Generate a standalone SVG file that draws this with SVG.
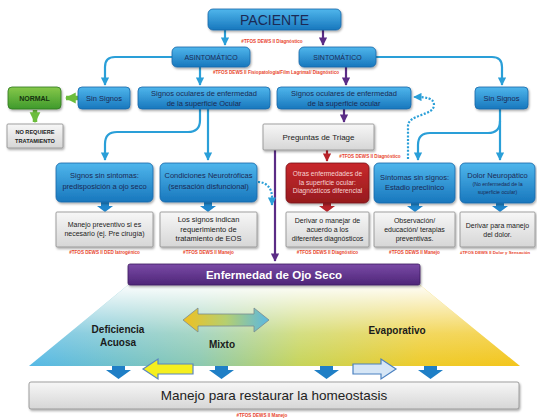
<svg xmlns="http://www.w3.org/2000/svg" width="537" height="420" viewBox="0 0 537 420">
<defs>
<linearGradient id="gBlue" x1="0" y1="0" x2="0" y2="1"><stop offset="0" stop-color="#4fb6ec"/><stop offset="1" stop-color="#1877bd"/></linearGradient>
<linearGradient id="gGray" x1="0" y1="0" x2="0" y2="1"><stop offset="0" stop-color="#f7f7f7"/><stop offset="1" stop-color="#d6d6d6"/></linearGradient>
<linearGradient id="gRed" x1="0" y1="0" x2="0" y2="1"><stop offset="0" stop-color="#c8282c"/><stop offset="1" stop-color="#961b1e"/></linearGradient>
<linearGradient id="gGreen" x1="0" y1="0" x2="0" y2="1"><stop offset="0" stop-color="#86c84a"/><stop offset="1" stop-color="#3f9a2c"/></linearGradient>
<linearGradient id="gPurple" x1="0" y1="0" x2="0" y2="1"><stop offset="0" stop-color="#7a4aa6"/><stop offset="1" stop-color="#4e2678"/></linearGradient>
<linearGradient id="gTrapH" x1="0" y1="0" x2="1" y2="0"><stop offset="0" stop-color="#55b9e6"/><stop offset="0.35" stop-color="#8cc9b0"/><stop offset="0.55" stop-color="#c6d45a"/><stop offset="0.8" stop-color="#eecb2a"/><stop offset="1" stop-color="#f3c51c"/></linearGradient>
<linearGradient id="gTrapV" x1="0" y1="0" x2="0" y2="1"><stop offset="0" stop-color="#ffffff" stop-opacity="0.97"/><stop offset="0.6" stop-color="#ffffff" stop-opacity="0.25"/><stop offset="1" stop-color="#ffffff" stop-opacity="0"/></linearGradient>
<linearGradient id="gDbl" x1="0" y1="0" x2="1" y2="0"><stop offset="0" stop-color="#f0c020"/><stop offset="0.5" stop-color="#b5cf70"/><stop offset="1" stop-color="#5ab8e2"/></linearGradient>
<filter id="sh" x="-10%" y="-10%" width="130%" height="140%"><feDropShadow dx="1" dy="1.5" stdDeviation="1.2" flood-color="#000" flood-opacity="0.35"/></filter>
<marker id="aB" viewBox="0 0 10 10" refX="9" refY="5" markerWidth="3.8" markerHeight="3.8" orient="auto" markerUnits="strokeWidth"><path d="M0,0 L10,5 L0,10 z" fill="#2a9fd8"/></marker>
<marker id="aP" viewBox="0 0 10 10" refX="9" refY="5" markerWidth="3.8" markerHeight="3.8" orient="auto" markerUnits="strokeWidth"><path d="M0,0 L10,5 L0,10 z" fill="#5b2c86"/></marker>
<marker id="aR" viewBox="0 0 10 10" refX="9" refY="5" markerWidth="3.8" markerHeight="3.8" orient="auto" markerUnits="strokeWidth"><path d="M0,0 L10,5 L0,10 z" fill="#b8232a"/></marker>
<marker id="aG" viewBox="0 0 10 10" refX="9" refY="5" markerWidth="2.4" markerHeight="2.8" orient="auto" markerUnits="strokeWidth"><path d="M0,0 L10,5 L0,10 z" fill="#6cbd3c"/></marker>
</defs>
<style>
.blue{fill:url(#gBlue);stroke:#1667a8;stroke-width:0.8;filter:url(#sh)}
.gray{fill:url(#gGray);stroke:#8a8a8a;stroke-width:0.8;filter:url(#sh)}
.red{fill:url(#gRed);stroke:#7a1216;stroke-width:0.8;filter:url(#sh)}
.green{fill:url(#gGreen);stroke:#2f7a20;stroke-width:0.8;filter:url(#sh)}
.purple{fill:url(#gPurple);stroke:#3e1d60;stroke-width:0.8;filter:url(#sh)}
text{font-family:"Liberation Sans",Arial,sans-serif;text-anchor:middle}
.tb{fill:#1b2a55;font-size:7.5px}
.tg{fill:#222;font-size:7.5px}
.tr{fill:#e8452c;font-size:4.6px;font-weight:bold}
.lb{stroke:#2a9fd8;stroke-width:2.2;fill:none;marker-end:url(#aB)}
.lp{stroke:#5b2c86;stroke-width:2.2;fill:none;marker-end:url(#aP)}
.dot{stroke:#2a9fd8;stroke-width:2.2;fill:none;stroke-dasharray:2 1.6;marker-end:url(#aB)}
.lab{font-weight:bold;fill:#1b1b1b;font-size:10px}
</style>

<g id="trapezoid">
<polygon points="128,285 420,285 520,366 29,366" fill="url(#gTrapH)"/>
<polygon points="128,285 420,285 520,366 29,366" fill="url(#gTrapV)"/>
</g>

<g id="connectors">
<path class="lb" d="M225,30 V45"/>
<path class="lp" d="M323,30 V45"/>
<path class="lb" d="M200,67 V85"/>
<path class="lb" d="M172,57 H115 Q105,57 105,67 V85"/>
<path class="lp" d="M346,67 V85"/>
<path class="lb" d="M376,57 H492 Q502,57 502,67 V85"/>
<path d="M78,98 H66" stroke="#6cbd3c" stroke-width="4.5" fill="none" marker-end="url(#aG)"/>
<path d="M35,110 V122" stroke="#6cbd3c" stroke-width="4.5" fill="none" marker-end="url(#aG)"/>
<path class="lb" d="M200,109 V120 Q200,132 188,132 H117 Q105,132 105,144 V160"/>
<path class="lb" d="M208,109 V160"/>
<path class="lp" d="M344,109 V122"/>
<path d="M327,150 V161" stroke="#b8232a" stroke-width="2.2" fill="none" marker-end="url(#aR)"/>
<path class="lp" d="M275,150 V261"/>
<path class="lb" d="M500,109 V160"/>
<path class="lb" d="M500,121 Q500,133 488,133 H430 Q418,133 418,145 V160"/>
<path class="dot" d="M408,159 V126 C408,114 434,116 434,105 C434,98 426,97 414,97"/>
<path class="dot" d="M258,182 C266,182 272,188 272,197 V205"/>
<g fill="#1f86cc">
<polygon points="101,202 109,202 109,206 113,206 105,212 97,206 101,206"/>
<polygon points="204,202 212,202 212,206 216,206 208,212 200,206 204,206"/>
<polygon points="411,203 419,203 419,206 423,206 415,212 407,206 411,206"/>
<polygon points="496,203 504,203 504,206 508,206 500,212 492,206 496,206"/>
</g>
<polygon points="323,203 331,203 331,206 335,206 327,212 319,206 323,206" fill="#b8232a"/>
<g fill="#1f7fc6">
<polygon points="112,366 125,366 125,370 131,370 118.5,379 106,370 112,370"/>
<polygon points="215,366 228,366 228,370 234,370 221.5,379 209,370 215,370"/>
<polygon points="320,366 333,366 333,370 339,370 326.5,379 314,370 320,370"/>
<polygon points="424,366 437,366 437,370 443,370 430.5,379 418,370 424,370"/>
</g>
<polygon points="143,369 158,359 158,364 193,364 193,374 158,374 158,379" fill="#f5ef1e" stroke="#5a86c0" stroke-width="1.2"/>
<polygon points="396,369 381,359 381,364 353,364 353,374 381,374 381,379" fill="#d6e6f6" stroke="#4a80c0" stroke-width="1.2"/>
<polygon points="183,320 198,308 198,314 254,314 254,308 269,320 254,332 254,326 198,326 198,332" fill="url(#gDbl)" stroke="#7a8a90" stroke-width="0.8"/>
</g>

<g id="paciente"><rect class="blue" x="208" y="9" width="133" height="21" rx="5"/><text x="274.5" y="25" style="font-size:14px;fill:#1b2a55">PACIENTE</text></g>
<text class="tr" x="272" y="43">#TFOS DEWS II Diagnóstico</text>

<g id="asintomatico"><rect class="blue" x="172" y="47" width="78" height="20" rx="5"/><text class="tb" x="211" y="60" style="font-size:7px">ASINTOMÁTICO</text></g>
<g id="sintomatico"><rect class="blue" x="299" y="47" width="77" height="20" rx="5"/><text class="tb" x="337.5" y="60" style="font-size:7px">SINTOMÁTICO</text></g>
<text class="tr" x="276" y="74">#TFOS DEWS II  Fisiopatología/Film Lagrimal/ Diagnóstico</text>

<g id="normal"><rect class="green" x="8" y="87" width="53" height="22" rx="4"/><text x="34.5" y="101" style="font-size:7px;font-weight:bold;fill:#15320f">NORMAL</text></g>
<g id="no-requiere"><rect class="gray" x="7" y="124" width="56" height="24" rx="1"/><text x="35" y="134" style="font-size:5.6px;font-weight:bold;fill:#222">NO REQUIERE</text><text x="35" y="143" style="font-size:5.6px;font-weight:bold;fill:#222">TRATAMIENTO</text></g>
<g id="sin-signos-a"><rect class="blue" x="78" y="87" width="52" height="22" rx="4"/><text class="tb" x="104" y="101">Sin Signos</text></g>
<g id="signos-oculares-a"><rect class="blue" x="138" y="87" width="132" height="22" rx="4"/><text class="tb" x="204" y="96">Signos oculares de enfermedad</text><text class="tb" x="204" y="106">de la  superficie Ocular</text></g>
<g id="signos-oculares-s"><rect class="blue" x="277" y="87" width="134" height="22" rx="4"/><text class="tb" x="344" y="96">Signos oculares de enfermedad</text><text class="tb" x="344" y="106">de la superficie ocular</text></g>
<g id="sin-signos-s"><rect class="blue" x="475" y="87" width="53" height="22" rx="4"/><text class="tb" x="501.5" y="101">Sin Signos</text></g>

<g id="triage"><rect class="gray" x="263" y="124" width="111" height="26" rx="1"/><text class="tg" x="318.5" y="140" style="font-size:8px">Preguntas de Triage</text></g>
<text class="tr" x="370" y="158">#TFOS DEWS II Diagnóstico</text>

<g id="signos-sin-sintomas"><rect class="blue" x="56" y="163" width="97" height="39" rx="5"/><text class="tb" x="104.5" y="178">Signos  sin sintomas:</text><text class="tb" x="104.5" y="189">predisposición a ojo seco</text></g>
<g id="condiciones"><rect class="blue" x="160" y="163" width="97" height="39" rx="5"/><text class="tb" x="208.5" y="178">Condiciones Neurotróficas</text><text class="tb" x="208.5" y="189">(sensación disfuncional)</text></g>
<g id="otras"><rect class="red" x="286" y="163" width="83" height="40" rx="5"/><text x="327.5" y="176" style="font-size:6.6px;fill:#f6d4d4">Otras enfermedades de</text><text x="327.5" y="184.5" style="font-size:6.6px;fill:#f6d4d4">la superficie ocular:</text><text x="327.5" y="193" style="font-size:6.6px;fill:#f6d4d4">Diagnósticos diferencial</text></g>
<g id="sintomas-sin-signos"><rect class="blue" x="374" y="163" width="81" height="40" rx="5"/><text class="tb" x="414.5" y="180">Síntomas sin signos:</text><text class="tb" x="414.5" y="190">Estadio preclínico</text></g>
<g id="dolor"><rect class="blue" x="460" y="163" width="75" height="40" rx="5"/><text class="tb" x="497.5" y="178">Dolor Neuropático</text><text class="tb" x="497.5" y="186" style="font-size:5.2px">(No enfermedad de la</text><text class="tb" x="497.5" y="194" style="font-size:5.2px">superficie ocular)</text></g>

<g id="manejo-preventivo"><rect class="gray" x="56" y="212" width="97" height="35" rx="1"/><text class="tg" x="104.5" y="227" style="font-size:7px">Manejo preventivo si es</text><text class="tg" x="104.5" y="236" style="font-size:7px">necesario (ej. Pre cirugía)</text></g>
<g id="signos-indican"><rect class="gray" x="160" y="212" width="97" height="35" rx="1"/><text class="tg" x="208.5" y="222">Los signos indican</text><text class="tg" x="208.5" y="231.5">requerimiento de</text><text class="tg" x="208.5" y="241">tratamiento de EOS</text></g>
<g id="derivar-manejar"><rect class="gray" x="286" y="212" width="83" height="35" rx="1"/><text class="tg" x="327.5" y="223" style="font-size:7px">Derivar o manejar de</text><text class="tg" x="327.5" y="232" style="font-size:7px">acuerdo a los</text><text class="tg" x="327.5" y="241" style="font-size:7px">diferentes diagnósticos</text></g>
<g id="observacion"><rect class="gray" x="374" y="212" width="81" height="35" rx="1"/><text class="tg" x="414.5" y="223" style="font-size:7px">Observación/</text><text class="tg" x="414.5" y="232" style="font-size:7px">educación/ terapias</text><text class="tg" x="414.5" y="241" style="font-size:7px">preventivas.</text></g>
<g id="derivar-dolor"><rect class="gray" x="460" y="212" width="75" height="35" rx="1"/><text class="tg" x="497.5" y="228" style="font-size:7px">Derivar para manejo</text><text class="tg" x="497.5" y="237" style="font-size:7px">del dolor.</text></g>

<text class="tr" x="104.5" y="254">#TFOS DEWS II DED Iatrogénico</text>
<text class="tr" x="208.5" y="254">#TFOS DEWS II Manejo</text>
<text class="tr" x="327.5" y="254">#TFOS DEWS II Diagnóstico</text>
<text class="tr" x="414.5" y="254">#TFOS DEWS II Manejo</text>
<text class="tr" x="460" y="254" style="text-anchor:start;font-size:4.3px">#TFOS DEWS II Dolor y Sensación</text>

<g id="enfermedad"><rect class="purple" x="128" y="264" width="292" height="21" rx="2"/><text x="274" y="279" style="font-size:11.5px;font-weight:bold;fill:#ffffff">Enfermedad de Ojo Seco</text></g>

<text class="lab" x="118" y="333">Deficiencia</text>
<text class="lab" x="118" y="346">Acuosa</text>
<text class="lab" x="222" y="348">Mixto</text>
<text class="lab" x="397" y="334">Evaporativo</text>

<g id="manejo-homeostasis"><rect class="gray" x="29" y="382" width="490" height="27" rx="2"/><text x="274" y="400" style="font-size:13.5px;fill:#222">Manejo para restaurar la homeostasis</text></g>
<text class="tr" x="262" y="417">#TFOS DEWS II Manejo</text>
</svg>
